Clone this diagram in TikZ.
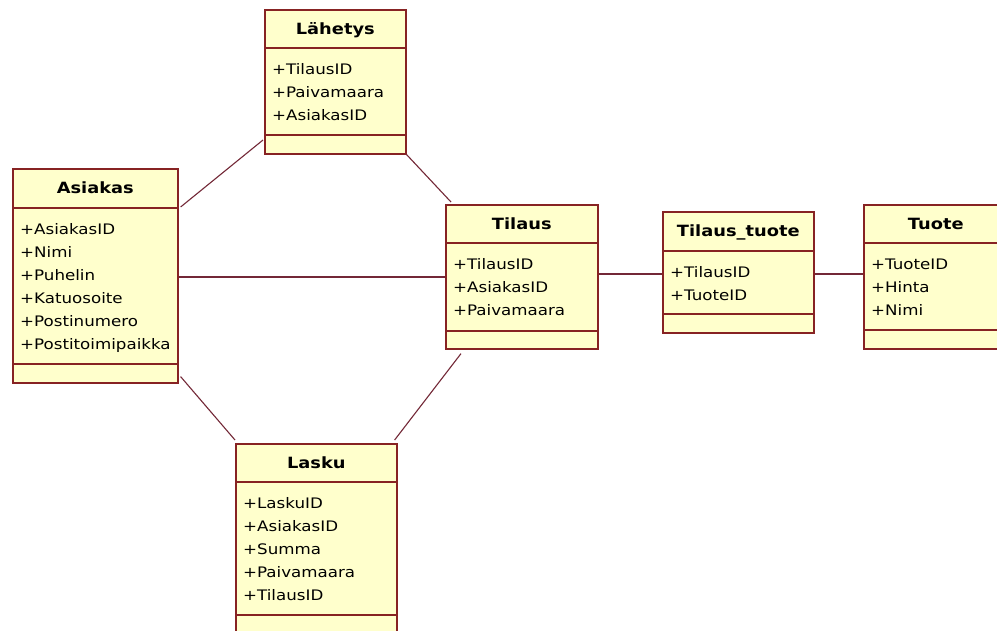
\documentclass[tikz,border=0pt]{standalone}
\usepackage{fontspec}
\setmainfont{DejaVu Sans}[FakeStretch=1.15]
\usetikzlibrary{calc}

\definecolor{classfill}{RGB}{255,255,204}
\definecolor{classedge}{RGB}{135,35,35}
\definecolor{linkcol}{RGB}{115,40,55}

\tikzset{
  classbox/.style={draw=classedge, fill=classfill, line width=1.6pt, rectangle,
    inner sep=0pt, anchor=north west},
  divider/.style={draw=classedge, line width=1.5pt},
  classtitle/.style={font=\bfseries\fontsize{15.5}{18}\selectfont, anchor=base, inner sep=0pt},
  attr/.style={font=\fontsize{14.5}{17}\selectfont, anchor=base west, inner sep=0pt},
  link/.style={draw=linkcol, line width=1.1pt},
}

% #1 name, #2 x, #3 y, #4 width, #5 height, #6 header height,
% #7 offset of the lower divider, #8 title, #9 attributes
\newcommand\umlclass[9]{%
  \node[classbox, minimum width=#4pt, minimum height=#5pt] (#1) at (#2,#3) {};
  \draw[divider] ([yshift=-#6pt]#1.north west) -- ([yshift=-#6pt]#1.north east);
  \draw[divider] ([yshift=-#7pt]#1.north west) -- ([yshift=-#7pt]#1.north east);
  \node[classtitle] (#1-title) at ([yshift=-25pt]#1.north) {#8};
  \foreach \a [count=\i from 0] in {#9}
    \node[attr] (#1-a\i) at ([xshift=8pt,yshift={-(#6+26+23*\i)*1pt}]#1.north west) {+\a};
}

\begin{document}
\begin{tikzpicture}[x=1pt, y=-1pt]
  \useasboundingbox (0,0) rectangle (997,630);
  \fill[white] (0,0) rectangle (997,630);
  \clip (0,0) rectangle (997,630);

  \umlclass{asiakas}{12}{168}{165}{214}{40}{196}{Asiakas}
    {AsiakasID,Nimi,Puhelin,Katuosoite,Postinumero,Postitoimipaikka}
  \umlclass{lahetys}{264}{9}{141}{144}{39}{126}{Lähetys}
    {TilausID,Paivamaara,AsiakasID}
  \umlclass{tilaus}{445}{204}{152}{144}{39}{127}{Tilaus}
    {TilausID,AsiakasID,Paivamaara}
  \umlclass{tilaustuote}{662}{211}{151}{121}{40}{103}{Tilaus\_tuote}
    {TilausID,TuoteID}
  \umlclass{tuote}{863}{204}{144}{144}{39}{126}{Tuote}
    {TuoteID,Hinta,Nimi}
  \umlclass{lasku}{235}{443}{161}{200}{39}{172}{Lasku}
    {LaskuID,AsiakasID,Summa,Paivamaara,TilausID}

  % associations
  \draw[link] ([xshift=2pt,yshift=-39pt]asiakas.north east)
           -- ([xshift=-1pt,yshift=-131pt]lahetys.north west);
  \draw[link] (lahetys.south east) -- ([xshift=6pt,yshift=2pt]tilaus.north west);
  \draw[link] ([yshift=-109pt]asiakas.north east) -- ([yshift=-73pt]tilaus.north west);
  \draw[link] ([xshift=2pt,yshift=7pt]asiakas.south east) -- ([yshift=3pt]lasku.north west);
  \draw[link] ([xshift=16pt,yshift=-4pt]tilaus.south west)
           -- ([xshift=-3pt,yshift=3pt]lasku.north east);
  \draw[link] ([yshift=-70pt]tilaus.north east) -- ([yshift=-63pt]tilaustuote.north west);
  \draw[link] ([yshift=-63pt]tilaustuote.north east) -- ([yshift=-70pt]tuote.north west);
\end{tikzpicture}
\end{document}
